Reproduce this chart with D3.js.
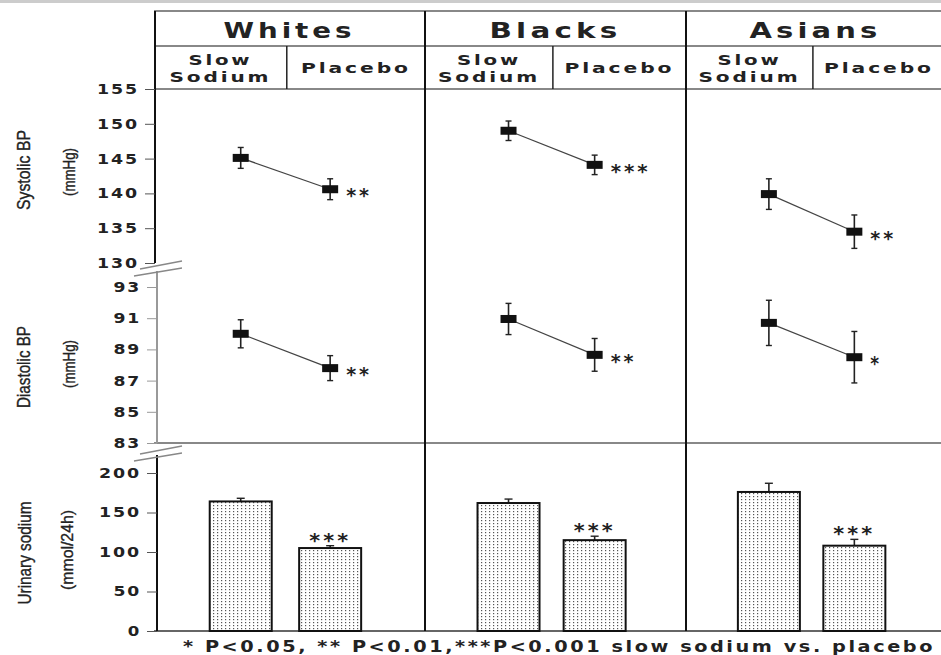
<!DOCTYPE html>
<html>
<head>
<meta charset="utf-8">
<script src="https://cdn.jsdelivr.net/npm/d3@7"></script>
<style>
  body { margin: 0; background: #fff; }
  svg { display: block; }
  .bold { font-family: "DejaVu Sans", sans-serif; font-weight: bold; fill: #222; }
  .ytitle { font-family: "Liberation Sans Narrow", "Liberation Sans", sans-serif; fill: #222; stroke: #222; stroke-width: 0.35px; }
</style>
</head>
<body>
<script>
// groups and treatments
var groups = ["Whites", "Blacks", "Asians"];
var treatments = ["Slow Sodium", "Placebo"];

// systolic BP (mmHg), [slow, placebo] per group
var systolicMean = [[145.1, 140.6], [149.0, 144.1], [139.9, 134.5]];
var systolicErr = [[1.5, 1.5], [1.4, 1.4], [2.2, 2.4]];
var systolicStars = ["**", "***", "**"];

// diastolic BP (mmHg)
var diastolicMean = [[90.0, 87.8], [90.95, 88.65], [90.7, 88.5]];
var diastolicErr = [[0.9, 0.8], [1.0, 1.05], [1.45, 1.65]];
var diastolicStars = ["**", "**", "*"];

// urinary sodium (mmol/24h)
var sodiumMean = [[164, 105], [162, 115], [176, 108]];
var sodiumErr = [[4, 3], [5, 5], [11, 8]];
var sodiumStars = ["***", "***", "***"];

// tick labels
var sysTicks = [130, 135, 140, 145, 150, 155];
var diaTicks = [83, 85, 87, 89, 91, 93];
var uriTicks = [0, 50, 100, 150, 200];

var footnote = "* P<0.05, ** P<0.01,***P<0.001 slow sodium vs. placebo";

window.onload = function(){
  var w = 941, h = 655;
  var svg = d3.select("body").append("svg")
    .attr("width", w)
    .attr("height", h);

  // dotted fill for the bars
  var pat = svg.append("defs").append("pattern")
    .attr("id", "dots")
    .attr("patternUnits", "userSpaceOnUse")
    .attr("width", 4).attr("height", 3);
  pat.append("rect").attr("width", 4).attr("height", 3).attr("fill", "#fff");
  pat.append("rect").attr("x", 1).attr("y", 1).attr("width", 1.2).attr("height", 1.2).attr("fill", "#555");

  // panel positions (piecewise: panel i spans i..i+1)
  var px = d3.scaleLinear().domain([0, 1, 2, 3]).range([154, 425, 686, 945]);
  var tpos = d3.scaleOrdinal().domain(treatments).range([0.32, 0.65]);
  var xOf = function(gi, t){ return px(gi + tpos(t)); };

  var ySys = d3.scaleLinear().domain([130, 155]).range([263, 89]);
  var yDia = d3.scaleLinear().domain([83, 93]).range([443, 287]);
  var yUri = d3.scaleLinear().domain([0, 200]).range([631, 473]);

  var top = 11, head2 = 46;

  // stretched bold text helper
  function btext(sel, size, ls, len){
    return sel.attr("class", "bold")
      .style("font-size", size + "px")
      .style("letter-spacing", ls + "px")
      .attr("textLength", len)
      .attr("lengthAdjust", "spacingAndGlyphs");
  }

  // faint top border
  svg.append("rect").attr("x", 0).attr("y", 0).attr("width", w).attr("height", 3).attr("fill", "#ccc");

  // horizontal frame lines
  [top, head2, ySys(155), yDia(83), yUri(0)].forEach(function(yy, i){
    svg.append("line")
      .attr("x1", 154).attr("x2", w)
      .attr("y1", yy).attr("y2", yy)
      .attr("stroke", i == 4 ? "#666" : "#888")
      .attr("stroke-width", 2);
  });

  // panel dividers
  [1, 2].forEach(function(d){
    svg.append("line")
      .attr("x1", px(d)).attr("x2", px(d))
      .attr("y1", top).attr("y2", yUri(0))
      .attr("stroke", "#111").attr("stroke-width", 2);
  });
  // sub-header dividers
  groups.forEach(function(g, gi){
    svg.append("line")
      .attr("x1", px(gi + 0.49)).attr("x2", px(gi + 0.49))
      .attr("y1", head2).attr("y2", ySys(155))
      .attr("stroke", "#222").attr("stroke-width", 1.5);
  });

  // headers
  groups.forEach(function(g, gi){
    btext(svg.append("text"), 21, 3, 132)
      .attr("x", px(gi + 0.5)).attr("y", 38)
      .attr("text-anchor", "middle")
      .text(g);
    var c1 = px(gi + 0.245), c2 = px(gi + 0.745);
    btext(svg.append("text"), 14, 2, 64)
      .attr("x", c1).attr("y", 65).attr("text-anchor", "middle").text("Slow");
    btext(svg.append("text"), 14, 2, 102)
      .attr("x", c1).attr("y", 82).attr("text-anchor", "middle").text("Sodium");
    btext(svg.append("text"), 14, 2, 110)
      .attr("x", c2).attr("y", 73).attr("text-anchor", "middle").text("Placebo");
  });

  // left axis lines
  svg.append("line").attr("x1", 155).attr("x2", 155).attr("y1", top).attr("y2", ySys(130))
    .attr("stroke", "#111").attr("stroke-width", 2);
  svg.append("line").attr("x1", 157).attr("x2", 157).attr("y1", ySys(130) + 8).attr("y2", yDia(83))
    .attr("stroke", "#999").attr("stroke-width", 2);
  svg.append("line").attr("x1", 157).attr("x2", 157).attr("y1", yDia(83) + 12).attr("y2", yUri(0))
    .attr("stroke", "#111").attr("stroke-width", 2);

  // axis break marks
  function brk(y0){
    [0, 7].forEach(function(o){
      svg.append("line")
        .attr("x1", 134 + (o ? 0 : 6)).attr("y1", y0 + o + 4)
        .attr("x2", 182).attr("y2", y0 + o - 4)
        .attr("stroke", "#888").attr("stroke-width", 1.3);
    });
  }
  brk(ySys(130) + 2);
  brk(yDia(83) + 7);

  function drawAxis(scale, ticks, xx, col){
    var g = svg.append("g")
      .attr("transform", "translate(" + xx + ",0)")
      .call(d3.axisLeft(scale).tickValues(ticks).tickSize(10).tickPadding(6));
    g.select(".domain").remove();
    g.selectAll(".tick line").attr("stroke", col);
    btext(g.selectAll(".tick text"), 14, 1.5, function(d){ return String(d).length * 14.3 - 1; })
      .attr("fill", "#222");
  }
  drawAxis(ySys, sysTicks, 155, "#555");
  drawAxis(yDia, diaTicks, 157, "#999");
  drawAxis(yUri, uriTicks, 157, "#555");

  // y titles
  function ytitle(x, y, txt, size, len){
    svg.append("text").attr("class", "ytitle")
      .attr("transform", "translate(" + x + "," + y + ") rotate(-90)")
      .attr("text-anchor", "middle")
      .style("font-size", size + "px")
      .attr("textLength", len)
      .attr("lengthAdjust", "spacingAndGlyphs")
      .text(txt);
  }
  ytitle(30, 170, "Systolic BP", 19, 80);
  ytitle(75, 172, "(mmHg)", 16, 48);
  ytitle(30, 367, "Diastolic BP", 19, 82);
  ytitle(75, 364, "(mmHg)", 16, 48);
  ytitle(31, 553, "Urinary sodium", 19, 103);
  ytitle(73, 550, "(mmol/24h)", 16, 80);

  // point panels
  function pointPanel(scale, means, errs, stars){
    groups.forEach(function(g, gi){
      var pts = treatments.map(function(t, ti){
        return { x: xOf(gi, t), y: scale(means[gi][ti]),
                 lo: scale(means[gi][ti] - errs[gi][ti]), hi: scale(means[gi][ti] + errs[gi][ti]) };
      });
      svg.append("path")
        .attr("d", d3.line().x(function(d){ return d.x; }).y(function(d){ return d.y; })(pts))
        .attr("stroke", "#444").attr("stroke-width", 1.2).attr("fill", "none");
      pts.forEach(function(p){
        svg.append("line").attr("x1", p.x).attr("x2", p.x).attr("y1", p.lo).attr("y2", p.hi)
          .attr("stroke", "#222").attr("stroke-width", 1.6);
        [p.lo, p.hi].forEach(function(yy){
          svg.append("line").attr("x1", p.x - 3).attr("x2", p.x + 3).attr("y1", yy).attr("y2", yy)
            .attr("stroke", "#222").attr("stroke-width", 1.4);
        });
        svg.append("rect").attr("x", p.x - 8).attr("y", p.y - 4)
          .attr("width", 16).attr("height", 8).attr("fill", "#111");
      });
      var s = stars[gi];
      btext(svg.append("text"), 20, 3, s.length * 14.3 - 3)
        .attr("x", pts[1].x + 16).attr("y", pts[1].y + 13)
        .text(s);
    });
  }
  pointPanel(ySys, systolicMean, systolicErr, systolicStars);
  pointPanel(yDia, diastolicMean, diastolicErr, diastolicStars);

  // bars
  groups.forEach(function(g, gi){
    treatments.forEach(function(t, ti){
      var cx = xOf(gi, t), v = sodiumMean[gi][ti], e = sodiumErr[gi][ti];
      svg.append("line").attr("x1", cx).attr("x2", cx).attr("y1", yUri(v)).attr("y2", yUri(v + e))
        .attr("stroke", "#222").attr("stroke-width", 1.6);
      svg.append("line").attr("x1", cx - 4).attr("x2", cx + 4).attr("y1", yUri(v + e)).attr("y2", yUri(v + e))
        .attr("stroke", "#222").attr("stroke-width", 1.4);
      svg.append("rect")
        .attr("x", cx - 31).attr("y", yUri(v))
        .attr("width", 62).attr("height", yUri(0) - yUri(v))
        .attr("fill", "url(#dots)")
        .attr("stroke", "#111").attr("stroke-width", 2);
    });
    var pv = sodiumMean[gi][1] + sodiumErr[gi][1];
    btext(svg.append("text"), 20, 3, 42)
      .attr("x", xOf(gi, "Placebo")).attr("y", yUri(pv) - 12 + 13)
      .attr("text-anchor", "middle")
      .text(sodiumStars[gi]);
  });

  // footnote
  btext(svg.append("text"), 15, 2, 752)
    .attr("x", 183).attr("y", 652)
    .text(footnote);
};
</script>
</body>
</html>
